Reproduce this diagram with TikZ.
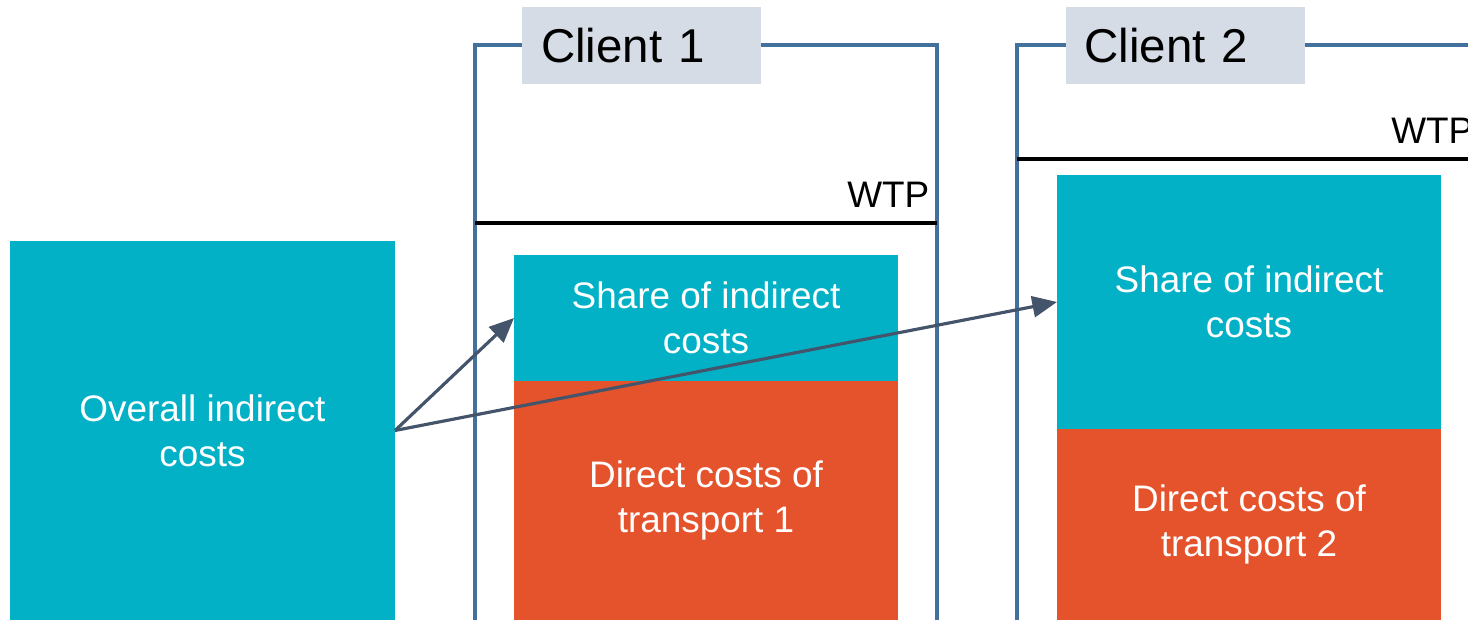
\documentclass[tikz,border=0pt]{standalone}
\usepackage{fontspec}
\setmainfont{Liberation Sans}
\usetikzlibrary{positioning, arrows.meta}
\definecolor{myteal}{RGB}{3,177,199}
\definecolor{myorange}{RGB}{229,83,44}
\definecolor{myframe}{RGB}{65,113,156}
\definecolor{mylabel}{RGB}{214,220,229}
\definecolor{myarrow}{RGB}{68,84,106}
\tikzset{
  costbox/.style={draw=none, fill=myteal, text=white, inner sep=0, outer sep=0,
    align=center, font=\fontsize{10.5}{12.8}\selectfont},
  directbox/.style={costbox, fill=myorange},
  frame/.style={draw=myframe, line width=1pt},
  clientlabel/.style={fill=mylabel, inner ysep=0, inner xsep=0.19cm, outer sep=0,
    text width=2.01cm, align=left, minimum height=0.77cm, text=black,
    font=\fontsize{13.5}{16}\selectfont},
  wtpline/.style={draw=black, line width=1.4pt},
  wtptext/.style={inner sep=0, anchor=base east, font=\fontsize{10.5}{12.8}\selectfont},
  flow/.style={-{Triangle[length=7pt,width=6pt]}, line width=0.9pt, color=myarrow}
}

\begin{document}
\begin{tikzpicture}
\useasboundingbox (0,0) rectangle (14.68,6.20);

% client frames
\draw[frame] (4.75,0) |- (9.37,5.75) -- (9.37,0);
\draw[frame] (10.17,0) |- (14.80,5.75);

\node [clientlabel] (client1) at (6.415,5.745) {Client 1};
\node [clientlabel] (client2) at (11.85,5.745) {Client 2};

% willingness to pay
\draw[wtpline] (4.75,3.97) -- (9.37,3.97);
\node [wtptext] (wtp1) at (9.30,4.12) {WTP};
\draw[wtpline] (10.17,4.61) -- (14.80,4.61);
\node [wtptext] (wtp2) at (14.74,4.76) {WTP};

% cost blocks
\node [costbox, minimum width=3.85cm, minimum height=3.79cm] (overall) at (2.025,1.895)
  {Overall indirect\\costs};

\node [costbox, minimum width=3.84cm, minimum height=1.26cm] (share1) at (7.06,3.02)
  {Share of indirect\\costs};
\node [directbox, minimum width=3.84cm, minimum height=2.39cm] (direct1) at (7.06,1.195)
  {Direct costs of\\transport 1};

\node [costbox, minimum width=3.84cm, minimum height=2.54cm] (share2) at (12.49,3.18)
  {Share of indirect\\costs};
\node [directbox, minimum width=3.84cm, minimum height=1.91cm] (direct2) at (12.49,0.955)
  {Direct costs of\\transport 2};

% allocation
\draw[flow] (overall.east) -- (share1.west);
\draw[flow] (overall.east) -- (share2.west);

\end{tikzpicture}
\end{document}
